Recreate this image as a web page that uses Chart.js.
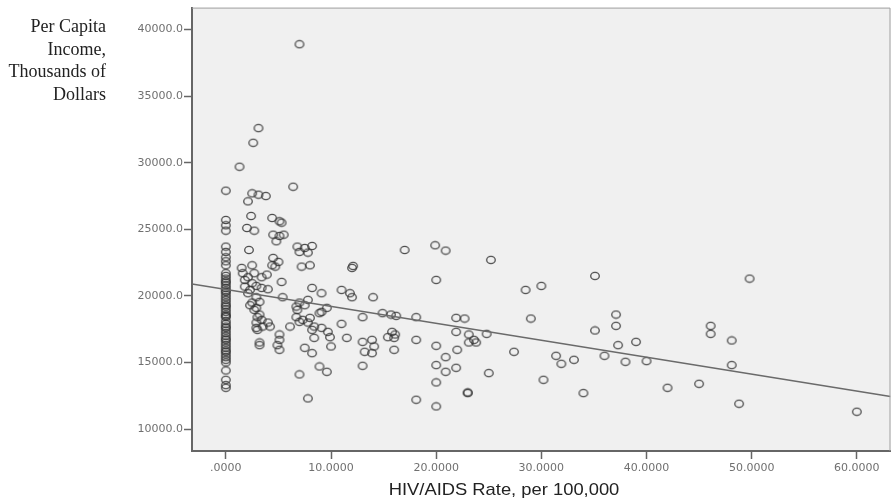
<!DOCTYPE html>
<html><head><meta charset="utf-8">
<script src="https://cdn.jsdelivr.net/npm/chart.js@4.4.1/dist/chart.umd.min.js"></script>
<style>
html,body{margin:0;padding:0;background:#fff;}
#wrap{position:relative;width:896px;height:504px;}
#ytitle{position:absolute;left:0;top:15px;width:106px;text-align:right;font-family:"Liberation Serif","Times New Roman",serif;font-size:18px;line-height:22.5px;color:#222;}
#xtitle{position:absolute;left:364px;top:479px;width:280px;text-align:center;font-family:"Liberation Sans",Arial,sans-serif;font-size:17px;line-height:22px;color:#222;transform:scaleX(1.08);transform-origin:50% 50%;}
</style></head><body>
<div id="wrap"><canvas id="c" width="896" height="504"></canvas>
<div id="ytitle">Per Capita<br>Income,<br>Thousands of<br>Dollars</div>
<div id="xtitle"></div></div>
<script>
const rateValues = [
  0,0,0,0,0,0,0,0,0,0,
  0,0,0,0,0,0,0,0,0,0,
  0,0,0,0,0,0,0,0,0,0,
  0,0,0,0,0,0,0,0,0,0,
  0,0,0,0,0,0,0,0,0,0,
  0,
  7.0, 3.1, 2.6, 1.3, 6.4, 2.5, 3.1, 3.8, 2.1, 2.4,
  4.4, 5.1, 5.3, 2.0, 2.7, 4.5, 5.1, 5.5, 4.8, 2.2,
  6.8, 7.5, 8.2, 7.0, 7.8, 17.0, 4.5, 5.0, 4.4, 7.2,
  8.0, 12.0, 12.1, 1.5, 1.6, 2.1, 2.5, 3.4, 3.9, 4.7,
  5.3, 1.8, 2.3, 2.9, 3.4, 4.0, 2.9, 3.2, 2.3, 2.9,
  3.2, 3.4, 4.0, 4.2, 5.4, 6.7, 7.5, 7.8, 8.2, 9.1,
  6.7, 7.3, 7.8, 8.4, 6.1, 9.1, 9.6, 11.0, 11.8, 12.0,
  13.0, 11.0, 2.1, 2.7, 1.8, 2.5, 2.5, 2.7, 3.0, 2.9,
  3.0, 3.2, 14.0, 7.0, 8.9, 6.8, 7.0, 8.0, 14.9, 15.7,
  16.2, 2.9, 3.5, 8.2, 9.1, 9.7, 9.9, 5.1, 5.1, 4.9,
  5.1, 8.4, 11.5, 13.0, 13.9, 14.1, 13.2, 13.9, 15.8, 16.0,
  15.4, 3.2, 10.0, 7.5, 8.2, 16.0, 13.0, 8.9, 9.6, 7.0,
  7.8, 19.9, 20.9, 25.2, 20.0, 28.5, 30.0, 18.1, 21.9, 22.7,
  29.0, 16.1, 21.9, 23.1, 23.6, 23.1, 23.8, 24.8, 18.1, 20.0,
  22.0, 20.9, 27.4, 31.4, 20.0, 20.9, 21.9, 25.0, 20.0, 30.2,
  23.0, 23.0, 18.1, 20.0, 35.1, 37.1, 37.1, 35.1, 39.0, 37.3,
  36.0, 31.9, 33.1, 38.0, 40.0, 34.0, 42.0, 45.0, 46.1, 46.1,
  48.1, 48.1, 48.8, 49.8, 60.0
];
const incomeValues = [
  27900, 25700, 25300, 24900, 23700, 23300, 22900, 22600, 22300, 21700,
  21500, 21300, 21100, 21000, 20800, 20600, 20400, 20300, 20100, 19900,
  19700, 19500, 19300, 19200, 19000, 18800, 18600, 18500, 18400, 18100,
  17900, 17700, 17600, 17400, 17200, 17000, 16800, 16700, 16500, 16300,
  16100, 15900, 15800, 15600, 15400, 15200, 15000, 14400, 13700, 13300,
  13100,
  38900, 32600, 31500, 29700, 28200, 27700, 27600, 27500, 27100, 26000,
  25850, 25600, 25500, 25100, 24900, 24600, 24500, 24600, 24100, 23450,
  23700, 23600, 23750, 23300, 23250, 23450, 22850, 22550, 22300, 22200,
  22300, 22100, 22250, 22100, 21700, 21400, 22300, 21400, 21600, 22200,
  21050, 20700, 20450, 20750, 20600, 20500, 19900, 19550, 19300, 19100,
  18600, 18200, 18000, 17700, 19900, 19200, 19300, 19700, 20600, 20200,
  18400, 18200, 18000, 17700, 17700, 18800, 19100, 20450, 20200, 19900,
  18400, 17900, 20200, 21700, 21200, 20950, 19500, 18950, 18400, 18000,
  17450, 16500, 19900, 19500, 18700, 18950, 18050, 18350, 18700, 18600,
  18500, 17600, 17700, 17450, 17600, 17300, 16900, 17100, 16700, 16300,
  15950, 16850, 16850, 16550, 16700, 16200, 15800, 15700, 17300, 16850,
  16900, 16300, 16200, 16100, 15700, 15950, 14750, 14700, 14300, 14100,
  12300, 23800, 23400, 22700, 21200, 20450, 20750, 18400, 18350, 18300,
  18300, 17100, 17300, 17100, 16700, 16500, 16500, 17150, 16700, 16250,
  15950, 15400, 15800, 15500, 14800, 14300, 14600, 14200, 13500, 13700,
  12750, 12700, 12200, 11700, 21500, 18600, 17750, 17400, 16550, 16300,
  15500, 14900, 15200, 15050, 15100, 12700, 13100, 13400, 17750, 17150,
  16650, 14800, 11900, 21300, 11300
];
const fitLineRate = [-3.22, 63.2];
const fitLineIncome = [20900, 12450];
const xTickValues = [0, 10, 20, 30, 40, 50, 60];
const xTickLabels = ['.0000', '10.0000', '20.0000', '30.0000', '40.0000', '50.0000', '60.0000'];
const yTickValues = [10000, 15000, 20000, 25000, 30000, 35000, 40000];
const yTickLabels = ['10000.0', '15000.0', '20000.0', '25000.0', '30000.0', '35000.0', '40000.0'];
const xAxisTitle = 'HIV/AIDS Rate, per 100,000';

document.getElementById('xtitle').textContent = xAxisTitle;

const scatterData = rateValues.map((x, i) => ({x: x, y: incomeValues[i]}));
const lineData = fitLineRate.map((x, i) => ({x: x, y: fitLineIncome[i]}));

// elliptical hollow marker
const marker = document.createElement('canvas');
marker.width = 12; marker.height = 10;
(function () {
  const m = marker.getContext('2d');
  m.strokeStyle = 'rgba(50,50,50,0.85)';
  m.lineWidth = 1.3;
  m.beginPath();
  m.ellipse(6, 5, 4.3, 3.7, 0, 0, Math.PI * 2);
  m.stroke();
})();

const plotBg = {
  id: 'plotBg',
  beforeDraw(chart) {
    const {ctx, chartArea: a} = chart;
    ctx.save();
    ctx.fillStyle = '#f0f0f0';
    ctx.fillRect(a.left, a.top, a.right - a.left, a.bottom - a.top);
    ctx.restore();
  },
  afterDraw(chart) {
    const {ctx, chartArea: a} = chart;
    ctx.save();
    ctx.strokeStyle = '#a0a0a0';
    ctx.lineWidth = 1;
    ctx.beginPath();
    ctx.moveTo(a.left, a.top + 0.5);
    ctx.lineTo(a.right - 0.5, a.top + 0.5);
    ctx.lineTo(a.right - 0.5, a.bottom);
    ctx.stroke();
    ctx.restore();
  }
};

new Chart(document.getElementById('c'), {
  type: 'scatter',
  data: {
    datasets: [
      {
        type: 'line',
        data: lineData,
        borderColor: '#6a6a6a',
        borderWidth: 1.5,
        pointRadius: 0,
        fill: false
      },
      {
        data: scatterData,
        pointStyle: marker,
        pointRadius: 4.5,
        borderColor: 'rgba(55,55,55,0.9)',
        backgroundColor: 'rgba(0,0,0,0)'
      }
    ]
  },
  options: {
    responsive: false,
    animation: false,
    devicePixelRatio: 1,
    layout: {padding: {top: 7, right: 3, left: 0, bottom: 0}},
    plugins: {legend: {display: false}, tooltip: {enabled: false}},
    scales: {
      x: {
        type: 'linear',
        min: -3.22,
        max: 63.2,
        afterBuildTicks: s => { s.ticks = xTickValues.map(v => ({value: v})); },
        afterFit: s => { s.height = 53; },
        ticks: {
          autoSkip: false,
          maxRotation: 0,
          padding: 3,
          color: '#707070',
          font: {family: 'DejaVu Sans', size: 11},
          callback: v => xTickLabels[xTickValues.indexOf(v)]
        },
        grid: {drawOnChartArea: false, tickLength: 8, color: '#666', tickWidth: 1.5},
        border: {color: '#666', width: 2}
      },
      y: {
        type: 'linear',
        min: 8350,
        max: 41650,
        afterBuildTicks: s => { s.ticks = yTickValues.map(v => ({value: v})); },
        afterFit: s => { s.width = 192; },
        ticks: {
          autoSkip: false,
          padding: 1,
          color: '#707070',
          font: {family: 'DejaVu Sans', size: 11},
          callback: v => yTickLabels[yTickValues.indexOf(v)]
        },
        grid: {drawOnChartArea: false, tickLength: 8, color: '#666', tickWidth: 1.5},
        border: {color: '#666', width: 2}
      }
    }
  },
  plugins: [plotBg]
});
</script></body></html>
